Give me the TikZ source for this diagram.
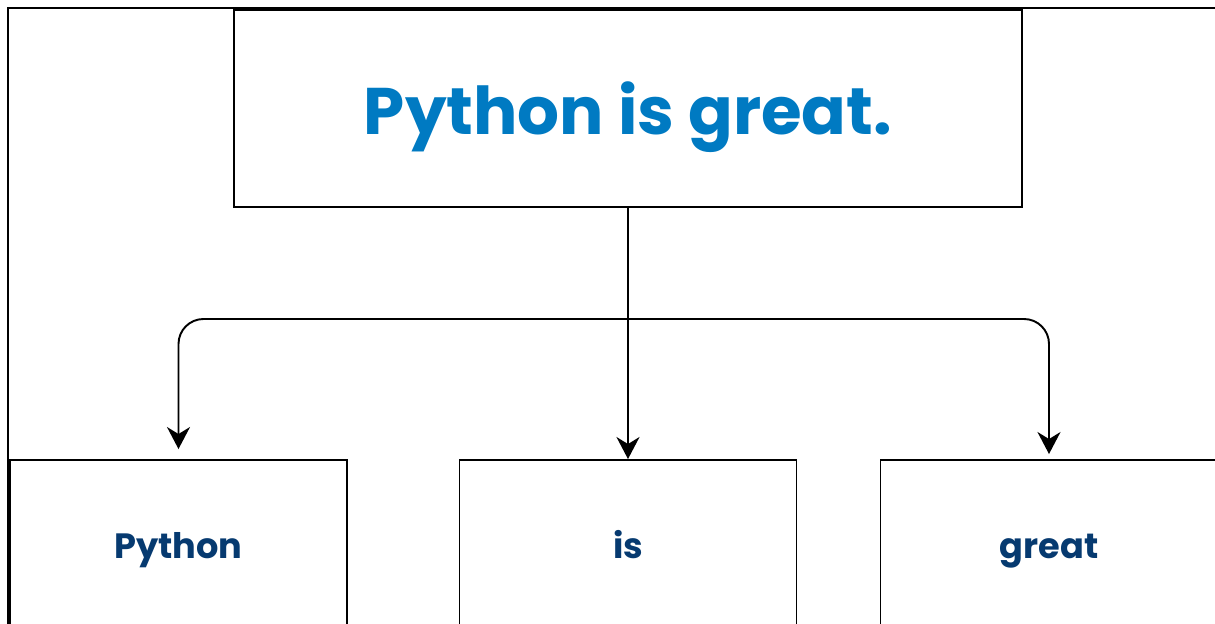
\documentclass[tikz,border=0pt]{standalone}
\usepackage{fontspec}
\setmainfont{Poppins}
\usetikzlibrary{arrows.meta}
\definecolor{titleblue}{RGB}{0,122,194}
\definecolor{wordblue}{RGB}{6,58,112}
\tikzset{
    wordbox/.style={draw, line width=1.1pt, minimum width=6.74cm, minimum height=3.4cm, text height=0.6cm, text depth=0.08cm, text=wordblue, font=\fontsize{20}{24}\selectfont\bfseries},
    splitarrow/.style={line width=1.1pt, -{Stealth[length=0.44cm, width=0.46cm, inset=0.14cm]}}
}
\begin{document}
\begin{tikzpicture}
        \useasboundingbox (0, 0) rectangle (24.3, -12.48);
        \clip (0, 0) rectangle (24.3, -12.48);
        \draw[line width=1.7pt] (0.16, -0.16) rectangle (25, -13);
        \node[draw, line width=1.1pt, minimum width=15.76cm, minimum height=3.94cm, text height=1.2cm, text depth=0.14cm, text=titleblue, font=\fontsize{37.5}{45}\selectfont\bfseries] (sentence) at (12.56, -2.17) {Python is great.};
        \node[wordbox] (python) at (3.57, -10.9) {Python};
        \node[wordbox] (is) at (12.56, -10.9) {is};
        \node[wordbox] (great) at (20.98, -10.9) {great};
        \coordinate (split) at (12.56, -6.38);
        \draw[splitarrow] (sentence.south) -- (is.north);
        \draw[splitarrow, rounded corners=0.5cm, shorten >=0.2cm] (split) -| (python.north);
        \draw[splitarrow, rounded corners=0.5cm, shorten >=0.1cm] (split) -| (great.north);
    \end{tikzpicture}
\end{document}
